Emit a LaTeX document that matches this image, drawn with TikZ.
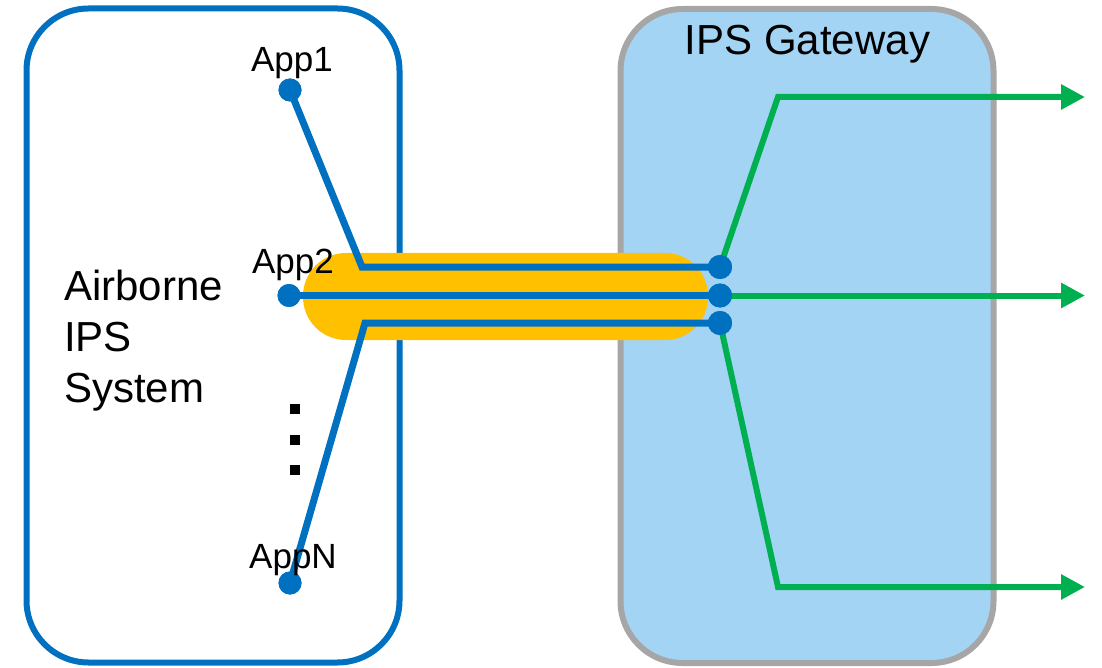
\documentclass[tikz,border=0pt]{standalone}
\usepackage{fontspec}
\setmainfont{Liberation Sans}
\usetikzlibrary{arrows.meta}
\definecolor{sysblue}{HTML}{0070C0}
\definecolor{gwfill}{HTML}{A4D4F4}
\definecolor{gwgray}{HTML}{A6A6A6}
\definecolor{tubegold}{HTML}{FFC000}
\definecolor{flowgreen}{HTML}{00B050}
\begin{document}
\begin{tikzpicture}[x=1pt,y=-1pt,
  sysbox/.style={draw=sysblue,line width=6pt,rounded corners=62pt,fill=white,
    minimum width=373pt,minimum height=654pt,inner sep=0pt},
  gwbox/.style={draw=gwgray,line width=6pt,rounded corners=62pt,fill=gwfill,
    minimum width=373pt,minimum height=654pt,inner sep=0pt},
  tube/.style={fill=tubegold,rounded corners=43pt,minimum width=405pt,
    minimum height=87pt,inner sep=0pt},
  appdot/.style={circle,fill=sysblue,minimum size=23pt,inner sep=0pt},
  portdot/.style={circle,fill=sysblue,minimum size=24pt,inner sep=0pt},
  vdot/.style={rectangle,fill=black,minimum size=10pt,inner sep=0pt},
  link/.style={draw=sysblue,line width=7pt},
  flow/.style={draw=flowgreen,line width=6pt,-{Triangle[length=24pt,width=24pt]}},
  bigtext/.style={font=\fontsize{42}{51}\selectfont,inner sep=0pt},
  apptext/.style={font=\fontsize{35}{42}\selectfont,inner sep=0pt,anchor=base},
]
\useasboundingbox (0,0) rectangle (1102,668);

% the two systems
\node[sysbox] (sys) at (213,335.5) {};
\node[gwbox] (gw) at (807,336) {};

% the link bundle between them
\node[tube] (bundle) at (505.5,296.5) {};

% titles (the multi-line title sits on the baseline of its last line)
\node[bigtext,anchor=base] (gwtitle) at (807.5,55) {IPS Gateway};
\node[bigtext,anchor=base west,align=left] (systitle) at (64,402)
  {Airborne\\IPS\\System};

% applications and gateway ports
\node[appdot] (a1) at (290,90) {};
\node[appdot] (a2) at (289,295.5) {};
\node[appdot] (aN) at (290,583) {};
\node[portdot] (p1) at (720,267) {};
\node[portdot] (p2) at (720,295.5) {};
\node[portdot] (p3) at (720,323) {};

\coordinate (k1) at (362,267);
\coordinate (k3) at (365,323);
\coordinate (b1) at (778,97);
\coordinate (b3) at (778,587);
\coordinate (o1) at (1085,97);
\coordinate (o2) at (1085,295.5);
\coordinate (o3) at (1085,587);

% outgoing flows
\path[flow] (p1.center) -- (b1) -- (o1);
\path[flow] (p2.center) -- (o2);
\path[flow] (p3.center) -- (b3) -- (o3);

% application links
\path[link] (a1.center) -- (k1) -- (p1.center);
\path[link] (a2.center) -- (p2.center);
\path[link] (aN.center) -- (k3) -- (p3.center);

% redraw dots on top of the links
\node[appdot] at (a1) {};
\node[appdot] at (a2) {};
\node[appdot] at (aN) {};
\node[portdot] at (p1) {};
\node[portdot] at (p2) {};
\node[portdot] at (p3) {};

% vertical ellipsis
\node[vdot] (d1) at (295,409) {};
\node[vdot] (d2) at (295,440) {};
\node[vdot] (d3) at (295,470) {};

% application labels
\node[apptext] (l1) at (292,72) {App1};
\node[apptext] (l2) at (293,273) {App2};
\node[apptext] (lN) at (293,568) {AppN};
\end{tikzpicture}
\end{document}
